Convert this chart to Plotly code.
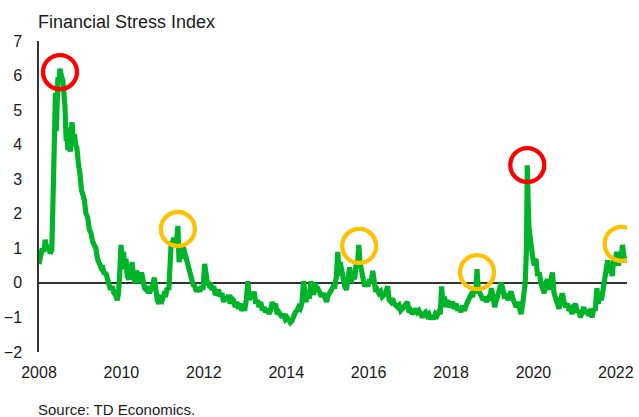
import plotly.graph_objects as go

# ---- data (decimal year, index value) ----
dates = [
    2008.00, 2008.04, 2008.08, 2008.12, 2008.15, 2008.19, 2008.23, 2008.27, 2008.31, 2008.34,
    2008.37, 2008.40, 2008.42, 2008.44, 2008.46, 2008.49, 2008.51, 2008.54, 2008.58, 2008.61,
    2008.63, 2008.66, 2008.68, 2008.70, 2008.73, 2008.76, 2008.78, 2008.80, 2008.83, 2008.86,
    2008.89, 2008.92, 2008.96, 2008.99, 2009.03, 2009.07, 2009.10, 2009.14, 2009.18, 2009.22,
    2009.26, 2009.30, 2009.34, 2009.38, 2009.42, 2009.46, 2009.50, 2009.54, 2009.58, 2009.62,
    2009.66, 2009.70, 2009.74, 2009.78, 2009.82, 2009.86, 2009.90, 2009.93, 2009.96, 2009.99,
    2010.02, 2010.05, 2010.08, 2010.11, 2010.14, 2010.18, 2010.22, 2010.26, 2010.29, 2010.33,
    2010.37, 2010.41, 2010.45, 2010.49, 2010.52, 2010.56, 2010.60, 2010.64, 2010.68, 2010.72,
    2010.76, 2010.80, 2010.83, 2010.87, 2010.91, 2010.95, 2010.99, 2011.03, 2011.07, 2011.11,
    2011.15, 2011.18, 2011.21, 2011.24, 2011.27, 2011.31, 2011.34, 2011.37, 2011.40, 2011.43,
    2011.46, 2011.50, 2011.54, 2011.58, 2011.62, 2011.66, 2011.70, 2011.74, 2011.78, 2011.82,
    2011.86, 2011.90, 2011.94, 2011.98, 2012.02, 2012.05, 2012.08, 2012.12, 2012.16, 2012.20,
    2012.24, 2012.28, 2012.32, 2012.36, 2012.40, 2012.44, 2012.48, 2012.52, 2012.56, 2012.60,
    2012.64, 2012.68, 2012.72, 2012.76, 2012.80, 2012.84, 2012.88, 2012.92, 2012.96, 2012.99,
    2013.03, 2013.07, 2013.10, 2013.14, 2013.18, 2013.22, 2013.26, 2013.30, 2013.34, 2013.38,
    2013.42, 2013.46, 2013.50, 2013.54, 2013.58, 2013.62, 2013.66, 2013.70, 2013.74, 2013.78,
    2013.82, 2013.86, 2013.90, 2013.94, 2013.98, 2014.02, 2014.06, 2014.10, 2014.14, 2014.18,
    2014.22, 2014.26, 2014.30, 2014.34, 2014.38, 2014.42, 2014.45, 2014.48, 2014.52, 2014.56,
    2014.60, 2014.63, 2014.66, 2014.70, 2014.74, 2014.78, 2014.82, 2014.86, 2014.90, 2014.94,
    2014.98, 2015.02, 2015.06, 2015.10, 2015.14, 2015.18, 2015.22, 2015.25, 2015.28, 2015.31,
    2015.34, 2015.38, 2015.42, 2015.46, 2015.50, 2015.54, 2015.58, 2015.62, 2015.66, 2015.70,
    2015.73, 2015.76, 2015.79, 2015.82, 2015.86, 2015.90, 2015.94, 2015.98, 2016.02, 2016.06,
    2016.10, 2016.13, 2016.17, 2016.21, 2016.25, 2016.29, 2016.33, 2016.37, 2016.41, 2016.46,
    2016.50, 2016.54, 2016.58, 2016.62, 2016.66, 2016.70, 2016.74, 2016.78, 2016.82, 2016.86,
    2016.90, 2016.94, 2016.98, 2017.02, 2017.06, 2017.10, 2017.14, 2017.18, 2017.22, 2017.26,
    2017.30, 2017.34, 2017.38, 2017.42, 2017.46, 2017.50, 2017.54, 2017.58, 2017.62, 2017.66,
    2017.70, 2017.74, 2017.77, 2017.80, 2017.84, 2017.88, 2017.92, 2017.96, 2018.00, 2018.04,
    2018.08, 2018.12, 2018.16, 2018.20, 2018.24, 2018.28, 2018.32, 2018.36, 2018.40, 2018.44,
    2018.48, 2018.52, 2018.56, 2018.60, 2018.63, 2018.66, 2018.70, 2018.74, 2018.78, 2018.82,
    2018.86, 2018.90, 2018.94, 2018.98, 2019.02, 2019.06, 2019.10, 2019.14, 2019.18, 2019.22,
    2019.26, 2019.30, 2019.34, 2019.38, 2019.42, 2019.46, 2019.50, 2019.54, 2019.58, 2019.62,
    2019.66, 2019.70, 2019.74, 2019.77, 2019.80, 2019.83, 2019.85, 2019.87, 2019.89, 2019.92,
    2019.95, 2019.98, 2020.02, 2020.06, 2020.10, 2020.14, 2020.18, 2020.22, 2020.26, 2020.30,
    2020.34, 2020.38, 2020.42, 2020.46, 2020.50, 2020.54, 2020.58, 2020.62, 2020.66, 2020.70,
    2020.74, 2020.78, 2020.82, 2020.86, 2020.90, 2020.94, 2020.98, 2021.02, 2021.06, 2021.10,
    2021.14, 2021.18, 2021.22, 2021.26, 2021.30, 2021.34, 2021.38, 2021.42, 2021.46, 2021.50,
    2021.54, 2021.57, 2021.61, 2021.65, 2021.69, 2021.73, 2021.77, 2021.80, 2021.84, 2021.87,
    2021.91, 2021.95, 2021.98, 2022.02, 2022.06, 2022.10, 2022.13, 2022.16, 2022.19, 2022.22,
    2022.25,
]
stress = [
    0.55, 0.85, 1.00, 0.90, 1.25, 0.95, 1.10, 0.85, 0.95, 2.40,
    5.30, 5.50, 4.40, 5.40, 5.95, 5.90, 6.20, 6.00, 5.85, 5.40,
    5.10, 4.10, 4.50, 3.85, 4.00, 3.80, 4.50, 4.65, 4.20, 4.30,
    4.00, 3.90, 3.40, 3.20, 2.70, 2.50, 2.40, 2.00, 1.90, 1.55,
    1.45, 1.20, 1.05, 1.00, 0.70, 0.60, 0.45, 0.50, 0.25, 0.30,
    0.05, -0.05, -0.20, -0.10, -0.30, -0.35, -0.50, -0.30, 0.30, 1.10,
    0.60, 0.90, 0.40, 0.70, 0.20, 0.10, 0.30, 0.60, 0.20, 0.00,
    0.35, 0.10, 0.00, 0.30, 0.05, -0.15, -0.20, -0.10, -0.30, -0.20,
    -0.05, 0.15, -0.35, -0.50, -0.60, -0.45, -0.50, -0.35, -0.40, -0.15,
    -0.20, 0.60, 1.20, 1.15, 1.30, 1.10, 1.20, 1.65, 0.60, 1.00,
    0.70, 1.05, 0.85, 0.75, 0.50, 0.35, 0.15, -0.05, -0.10, -0.25,
    -0.15, -0.25, -0.10, -0.20, 0.55, 0.20, 0.05, -0.05, 0.00, -0.20,
    -0.10, -0.35, -0.30, -0.20, -0.40, -0.30, -0.55, -0.40, -0.50, -0.35,
    -0.60, -0.45, -0.50, -0.70, -0.55, -0.75, -0.60, -0.80, -0.70, -0.80,
    -0.50, 0.05, -0.50, -0.30, -0.45, -0.25, -0.60, -0.50, -0.70, -0.55,
    -0.80, -0.70, -0.85, -0.75, -0.90, -0.80, -0.55, -0.75, -0.60, -0.90,
    -0.85, -0.95, -1.00, -0.90, -1.05, -1.00, -1.10, -1.15, -1.10, -0.95,
    -0.85, -0.80, -0.70, -0.75, -0.60, 0.05, -0.40, -0.55, -0.30, -0.45,
    0.05, -0.10, -0.35, 0.00, -0.25, -0.20, -0.35, -0.40, -0.30, -0.50,
    -0.55, -0.35, -0.30, -0.20, -0.10, -0.10, 0.20, 0.90, 0.20, 0.60,
    0.40, 0.00, -0.10, -0.20, 0.10, 0.45, 0.00, 0.30, 0.10, 0.60,
    0.50, 1.10, 0.60, 0.45, 0.20, -0.10, 0.00, -0.10, 0.10, 0.00,
    0.35, -0.10, -0.25, -0.20, -0.30, -0.25, -0.40, -0.35, -0.30, -0.10,
    -0.50, -0.55, -0.45, -0.60, -0.65, -0.70, -0.65, -0.80, -0.75, -0.70,
    -0.60, -0.55, -0.85, -0.80, -0.90, -0.85, -0.75, -0.85, -0.80, -0.90,
    -1.00, -0.90, -0.85, -0.95, -0.90, -1.05, -0.95, -1.05, -0.90, -0.95,
    -0.85, -0.90, -0.10, -0.60, -0.40, -0.70, -0.50, -0.70, -0.65, -0.55,
    -0.75, -0.60, -0.80, -0.70, -0.85, -0.65, -0.80, -0.60, -0.55, -0.45,
    -0.35, -0.40, -0.20, -0.30, 0.40, -0.20, -0.30, -0.45, -0.50, -0.40,
    -0.55, -0.45, -0.50, -0.15, -0.40, -0.70, -0.50, -0.30, -0.10, 0.00,
    -0.20, -0.45, -0.30, -0.50, -0.35, -0.25, -0.45, -0.60, -0.70, -0.55,
    -0.80, -0.90, -0.60, -0.30, 0.00, 1.00, 3.40, 2.40, 1.60, 1.20,
    0.95, 0.75, 0.50, 0.70, 0.20, 0.30, 0.00, -0.15, -0.30, 0.00,
    0.10, -0.20, 0.10, 0.30, -0.30, -0.50, -0.60, -0.75, -0.50, -0.30,
    -0.55, -0.70, -0.60, -0.80, -0.75, -0.90, -0.70, -0.60, -0.85, -0.80,
    -1.00, -0.85, -0.70, -0.90, -0.80, -0.95, -0.75, -1.00, -0.75, -0.80,
    -0.15, -0.60, -0.40, -0.50, -0.20, 0.00, 0.30, 0.65, 0.30, 0.50,
    0.20, 0.75, 0.60, 0.90, 0.50, 0.80, 0.70, 1.10, 0.80, 0.60,
    0.75,
]

y_ticks = [-2, -1, 0, 1, 2, 3, 4, 5, 6, 7]
x_ticks = [2008, 2010, 2012, 2014, 2016, 2018, 2020, 2022]
x_tick_labels = ["2008", "2010", "2012", "2014", "2016", "2018", "2020", "2022"]

# highlighted episodes
major_dates = [2008.51, 2019.85]
major_values = [6.1, 3.41]
minor_dates = [2011.37, 2015.77, 2018.63, 2022.14]
minor_values = [1.56, 1.07, 0.31, 1.13]

title_text = "Financial Stress Index"
source_text = "Source: TD Economics."

FONT = "Liberation Sans, Arial, sans-serif"
TEXT = "#1a1a1a"
PLOT_H = 417 - 41 - 65

fig = go.Figure()
fig.add_trace(go.Scatter(
    x=dates, y=stress, mode="lines",
    line=dict(color="#00B42A", width=5.2),
    hoverinfo="skip", showlegend=False,
))

shapes = []
for cx, cy in zip(major_dates, major_values):
    shapes.append(dict(type="circle", xref="x", yref="y",
                       xsizemode="pixel", ysizemode="pixel",
                       xanchor=cx, yanchor=cy, x0=-17, x1=17, y0=-17, y1=17,
                       line=dict(color="#FF0000", width=4.3)))
for cx, cy in zip(minor_dates, minor_values):
    shapes.append(dict(type="circle", xref="x", yref="y",
                       xsizemode="pixel", ysizemode="pixel",
                       xanchor=cx, yanchor=cy, x0=-17, x1=17, y0=-17, y1=17,
                       line=dict(color="#FFC000", width=4.3)))

fig.update_layout(
    width=639, height=417,
    margin=dict(l=39, r=12, t=41, b=65),
    paper_bgcolor="white", plot_bgcolor="white",
    font=dict(family=FONT, size=16, color=TEXT),
    shapes=shapes,
    showlegend=False,
    annotations=[
        dict(text=title_text, xref="paper", yref="paper", x=0, y=1 + 19 / PLOT_H,
             xanchor="left", yanchor="middle", showarrow=False,
             font=dict(family=FONT, size=18, color=TEXT), xshift=-3),
        dict(text=source_text, xref="paper", yref="paper", x=0, y=-(409 - 352) / PLOT_H,
             xanchor="left", yanchor="middle", showarrow=False,
             font=dict(family=FONT, size=15, color=TEXT), xshift=-3),
    ],
)
fig.update_xaxes(
    range=[2008, 2022.27], tickvals=x_ticks, ticktext=x_tick_labels,
    showgrid=False, zeroline=False, showline=False, automargin=False,
    ticks="outside", ticklen=6, tickcolor="rgba(0,0,0,0)",
    tickfont=dict(family=FONT, size=16, color=TEXT),
)
fig.update_yaxes(
    range=[-2, 7], tickvals=y_ticks, automargin=False,
    showgrid=False, showline=True, linecolor="#333333", linewidth=1.5,
    zeroline=True, zerolinecolor="#333333", zerolinewidth=1.5,
    ticks="outside", ticklen=12, tickcolor="rgba(0,0,0,0)",
    tickfont=dict(family=FONT, size=16, color=TEXT),
)

fig.write_html(
    "out.html",
    config={"displayModeBar": False},
    post_script="document.body.style.margin='0';document.body.style.overflow='hidden';",
)
